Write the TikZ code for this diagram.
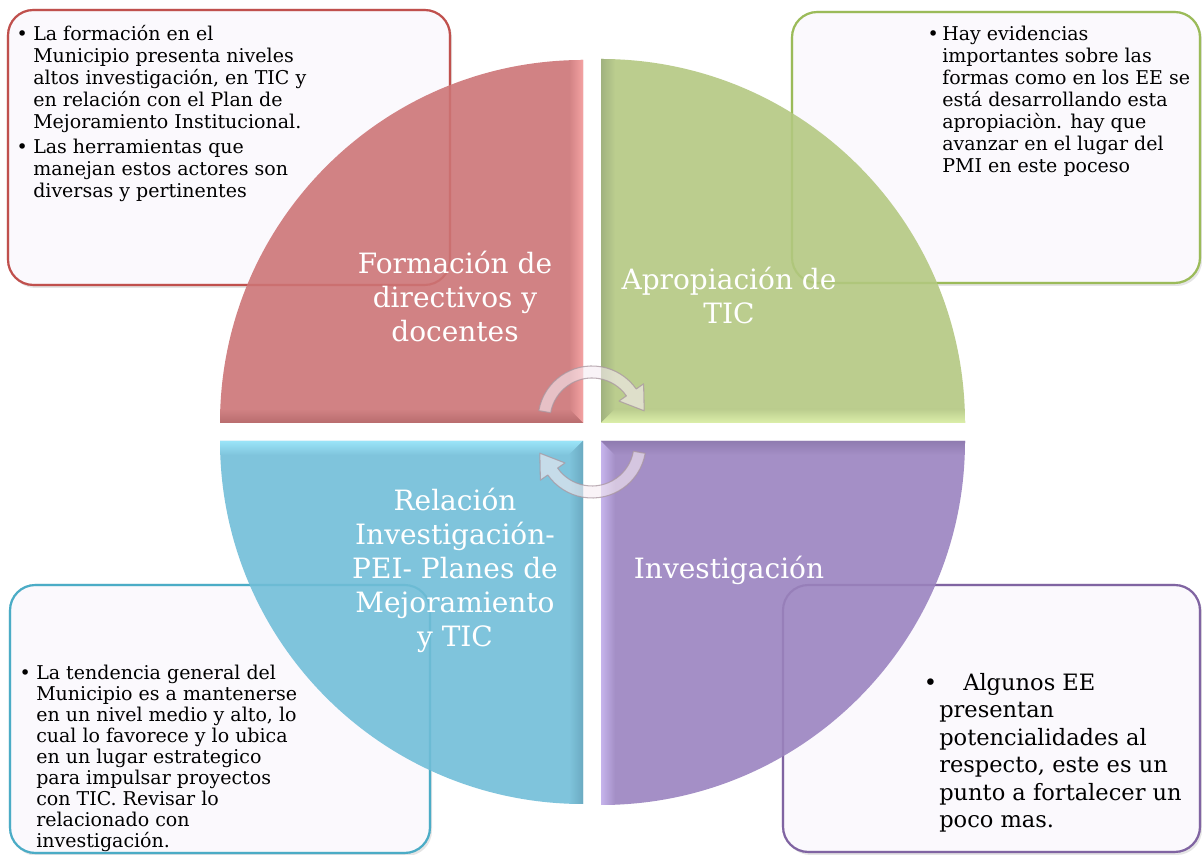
\documentclass[tikz,border=0pt]{standalone}
\usepackage{fontspec}
\setmainfont{DejaVu Serif}
\definecolor{qred}{HTML}{D18284}
\definecolor{qredL}{HTML}{F4A2A2}
\definecolor{qredD}{HTML}{B86C6E}
\definecolor{qgreen}{HTML}{BBCD8E}
\definecolor{qgreenL}{HTML}{DCEFAA}
\definecolor{qgreenD}{HTML}{A0B27F}
\definecolor{qblue}{HTML}{7FC4DC}
\definecolor{qblueL}{HTML}{9AE4F8}
\definecolor{qblueD}{HTML}{6BAAC1}
\definecolor{qpurple}{HTML}{A48FC6}
\definecolor{qpurpleL}{HTML}{C6B4EC}
\definecolor{qpurpleD}{HTML}{8F7BB0}
\definecolor{bred}{HTML}{C0504D}
\definecolor{bgreen}{HTML}{9BBB59}
\definecolor{bblue}{HTML}{4BACC6}
\definecolor{bpurple}{HTML}{8064A2}
\definecolor{boxfill}{HTML}{FBF9FD}
\definecolor{cycfill}{HTML}{F6ECF2}
\definecolor{cycdraw}{HTML}{A8969F}
\begin{document}
\begin{tikzpicture}[x=0.75pt,y=0.75pt,
  boxshape/.style={rounded corners=19pt, line width=1.6pt, fill=boxfill},
  boxedge/.style={rounded corners=19pt, line width=1.6pt, draw opacity=0.35},
  shadowshape/.style={rounded corners=19pt, fill=black, fill opacity=0.10},
  qlabel/.style={text=white, align=center, inner sep=0pt, font=\fontsize{21}{25.5}\selectfont},
  btext/.style={anchor=north west, inner sep=0pt, align=left, text=black, font=\fontsize{14.25}{16.5}\selectfont},
  cyc/.style={fill=cycfill, fill opacity=0.6, draw=cycdraw, draw opacity=0.75, line width=0.8pt, line join=round}
]
\useasboundingbox (0,0) rectangle (1202,855);
\fill[white] (0,0) rectangle (1202,855);

% ---- text boxes
\fill[shadowshape] (10,567) rectangle (452,843);
\fill[shadowshape] (794,569) rectangle (1202,841);
\fill[shadowshape] (12,-1) rectangle (432,268);
\fill[shadowshape] (785,0) rectangle (1202,268);
\draw[boxshape, draw=bred] (8,570) rectangle (450,845);
\draw[boxshape, draw=bgreen] (792,572) rectangle (1200,843);
\draw[boxshape, draw=bblue] (10,2) rectangle (430,270);
\draw[boxshape, draw=bpurple] (783,3) rectangle (1200,270);

\node[btext] (tred) at (33,829.5) {\llap{•\hspace{4pt}}La formación en el\\Municipio presenta niveles\\altos investigación, en TIC y\\en relación con el Plan de\\Mejoramiento Institucional.\\[2.25pt]\llap{•\hspace{4pt}}Las herramientas que\\manejan estos actores son\\diversas y pertinentes};
\node[btext] (tgreen) at (942,829.5) {\llap{•\hspace{2.5pt}}Hay evidencias\\importantes sobre las\\formas como en los EE se\\está desarrollando esta\\apropiaciòn. hay que\\avanzar en el lugar del\\PMI en este poceso};
\node[btext, font=\fontsize{14.25}{15.75}\selectfont] (tblue) at (36,190.5) {\llap{•\hspace{4pt}}La tendencia general del\\Municipio es a mantenerse\\en un nivel medio y alto, lo\\cual lo favorece y lo ubica\\en un lugar estrategico\\para impulsar proyectos\\con TIC. Revisar lo\\relacionado con\\investigación.};
\node[btext, font=\fontsize{16.9}{20.6}\selectfont] (tpurple) at (939,182) {\llap{•\hspace{1.5pt}}\hspace{18pt}Algunos EE\\presentan\\potencialidades al\\respecto, este es un\\punto a fortalecer un\\poco mas.};

% ---- quadrants
% red
\fill[qred] (583,432) -- (220,432) arc[start angle=180,end angle=90,radius=363] -- cycle;
\begin{scope}
\clip (583,432) -- (220,432) arc[start angle=180,end angle=90,radius=363] -- cycle;
\shade[left color=qred, right color=qredL] (569,446) -- (583,432) -- (583,800) -- (569,800) -- cycle;
\shade[top color=qred, bottom color=qredD] (215,446) -- (569,446) -- (583,432) -- (215,432) -- cycle;
\end{scope}
% green
\fill[qgreen] (601,432) -- (601,796) arc[start angle=90,end angle=0,radius=364] -- cycle;
\begin{scope}
\clip (601,432) -- (601,796) arc[start angle=90,end angle=0,radius=364] -- cycle;
\shade[left color=qgreenD, right color=qgreen] (601,432) -- (615,446) -- (615,800) -- (601,800) -- cycle;
\shade[top color=qgreen, bottom color=qgreenL] (615,446) -- (970,446) -- (970,432) -- (601,432) -- cycle;
\end{scope}
% blue
\fill[qblue] (583,414) -- (583,51) arc[start angle=270,end angle=180,radius=363] -- cycle;
\begin{scope}
\clip (583,414) -- (583,51) arc[start angle=270,end angle=180,radius=363] -- cycle;
\shade[top color=qblueL, bottom color=qblue] (215,414) -- (583,414) -- (569,400) -- (215,400) -- cycle;
\shade[left color=qblue, right color=qblueD] (569,400) -- (583,414) -- (583,45) -- (569,45) -- cycle;
\end{scope}
% purple
\fill[qpurple] (601,414) -- (965,414) arc[start angle=0,end angle=-90,radius=364] -- cycle;
\begin{scope}
\clip (601,414) -- (965,414) arc[start angle=0,end angle=-90,radius=364] -- cycle;
\shade[left color=qpurpleL, right color=qpurple] (601,414) -- (615,400) -- (615,45) -- (601,45) -- cycle;
\shade[top color=qpurpleD, bottom color=qpurple] (601,414) -- (970,414) -- (970,400) -- (615,400) -- cycle;
\end{scope}

% box borders seen through the quadrants
\draw[boxedge, draw=bred] (8,570) rectangle (450,845);
\draw[boxedge, draw=bgreen] (792,572) rectangle (1200,843);
\draw[boxedge, draw=bblue] (10,2) rectangle (430,270);
\draw[boxedge, draw=bpurple] (783,3) rectangle (1200,270);

% ---- quadrant labels
\node[qlabel] (lred) at (455,558) {Formación de\\directivos y\\docentes};
\node[qlabel] (lgreen) at (729,559.5) {Apropiación de\\TIC};
\node[qlabel] (lblue) at (455,285) {Relación\\Investigación-\\PEI- Planes de\\Mejoramiento\\y TIC};
\node[qlabel] (lpurple) at (729,285) {Investigación};

% ---- cycle arrows
\begin{scope}[shift={(592,435)}]
\path[cyc] (170:54) arc[start angle=170,end angle=35,radius=54] -- (35:63) -- (10:53) -- (35:33) -- (35:42) arc[start angle=35,end angle=170,radius=42] -- cycle;
\end{scope}
\begin{scope}[shift={(592,411)}, rotate=180]
\path[cyc] (170:54) arc[start angle=170,end angle=35,radius=54] -- (35:63) -- (10:53) -- (35:33) -- (35:42) arc[start angle=35,end angle=170,radius=42] -- cycle;
\end{scope}
\end{tikzpicture}
\end{document}
